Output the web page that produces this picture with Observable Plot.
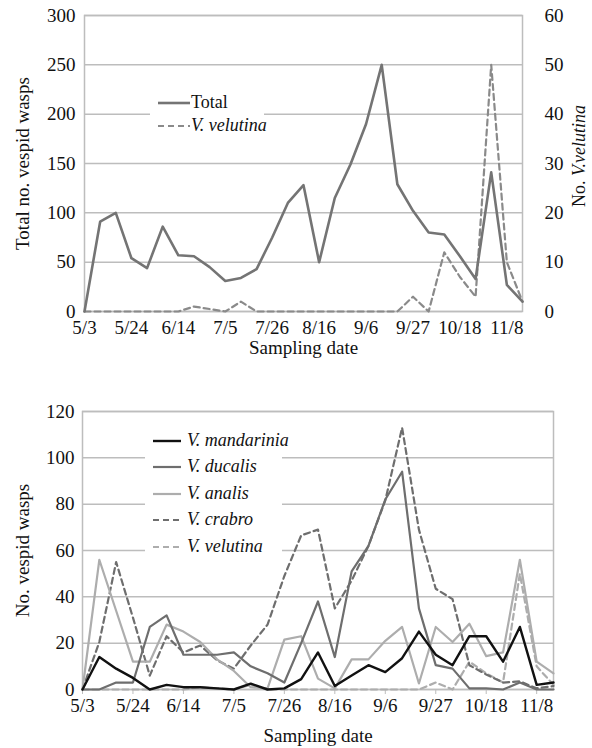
<!DOCTYPE html>
<html><head><meta charset="utf-8">
<script src="https://cdn.jsdelivr.net/npm/d3@7"></script>
<script src="https://cdn.jsdelivr.net/npm/@observablehq/plot@0.6"></script>
<style>
body{margin:0;background:#fff;font-family:"Liberation Serif","Times New Roman",serif;}
#wrap{position:relative;width:592px;height:748px;overflow:hidden;}
#wrap svg{display:block;}
.legend{position:absolute;background:#fff;font-family:"Liberation Serif","Times New Roman",serif;font-size:18px;color:#111;}
.legend svg{position:absolute;left:0;}
.legend span{position:absolute;white-space:nowrap;}
</style></head><body><div id="wrap"></div>
<script>
// ---- data ----
const dates = ["5/3","5/10","5/17","5/24","5/31","6/7","6/14","6/21","6/28","7/5","7/12","7/19","7/26","8/2","8/9","8/16","8/23","8/30","9/6","9/13","9/20","9/27","10/4","10/11","10/18","10/25","11/1","11/8","11/15"];
const tickDates = ["5/3","5/24","6/14","7/5","7/26","8/16","9/6","9/27","10/18","11/8"];
const total      = [0,91,100,54,44,86,57,56,45,31,34,43,75,110,128,50,115,149,190,250,129,102,80,78,56,33,141,27,10];
const velutina   = [0,0,0,0,0,0,0,1,0.5,0,2,0,0,0,0,0,0,0,0,0,0,3,0,12,7,3,50,10,2];
const mandarinia = [0,14,9,5,0,2,1,1,0.5,0,2.5,0,0.5,4.5,16,1.5,6,10.5,7.5,13.5,25,15,10.5,23,23,12,27,2,3];
const ducalis    = [0,0,3,3,27,32,15,15,15,16,10,7,3,20,38,14,51,62,82,94,35,10.5,9,0.5,0.5,0,3,0,0];
const analis     = [0,56,34,12,12,28,25,20.5,13,8,1,0.5,21.5,23,4.7,0.5,13,13,21,27,2.6,27,20.5,28.4,14.4,16,56,12,7];
const crabro     = [0,20.5,55,31,6,23,16,19,12.6,9,19,28,49,66.5,69,35,47,62,81.6,113,69,43.5,39,10.5,6.5,3,3.5,0.5,1.5];
const topTicks = [0,50,100,150,200,250,300];
const rightRatio = 5; // right axis 0-60 vs left 0-300
const bottomTicks = [0,20,40,60,80,100,120];

const series = [
  {name:"V. mandarinia", values: mandarinia, stroke:"#111", width:2.4, dash:null},
  {name:"V. ducalis",    values: ducalis,    stroke:"#6e6e6e", width:2.2, dash:null},
  {name:"V. analis",     values: analis,     stroke:"#adadad", width:2.2, dash:null},
  {name:"V. crabro",     values: crabro,     stroke:"#6e6e6e", width:2.2, dash:"6,4"},
  {name:"V. velutina",   values: velutina,   stroke:"#adadad", width:2.2, dash:"6,4"}
];

const wrap = document.getElementById("wrap");
const FONT = "'Liberation Serif', 'Times New Roman', serif";
const FS = 19;
const gridStroke = "#bdbdbd";
const tickIdx = tickDates.map(d => dates.indexOf(d));
const xScale = {type: "linear", domain: [0, dates.length - 1]};

// ---- top panel ----
const topData = dates.map((d,i)=>({i, date:d, total: total[i], vel: velutina[i]}));
const topPlot = Plot.plot({
  width: 592, height: 360,
  marginLeft: 84, marginRight: 70, marginTop: 15, marginBottom: 49,
  style: {fontFamily: FONT, fontSize: FS + "px", color: "#111", background: "#fff"},
  x: xScale,
  y: {domain: [0, 300]},
  marks: [
    Plot.gridY(topTicks, {stroke: gridStroke, strokeOpacity: 1, strokeWidth: 1.5}),
    Plot.frame({stroke: gridStroke, strokeWidth: 1.5}),
    Plot.axisY(topTicks, {anchor: "left", tickSize: 0, tickPadding: 9, label: null, fontSize: FS}),
    Plot.axisY(topTicks, {anchor: "right", tickSize: 0, tickPadding: 22, label: null, fontSize: FS, tickFormat: d => d / rightRatio}),
    Plot.axisX(tickIdx, {tickSize: 0, tickPadding: 9, label: null, fontSize: FS, tickFormat: i => dates[i]}),
    Plot.text(["Total no. vespid wasps"], {frameAnchor: "left", dx: -62, rotate: -90, fontSize: FS, textAnchor: "middle", lineAnchor: "middle"}),
    Plot.text(["Sampling date"], {frameAnchor: "bottom", dy: 36, fontSize: FS, textAnchor: "middle", lineAnchor: "middle"}),
    Plot.lineY(topData, {x: "i", y: d => d.vel * rightRatio, stroke: "#8a8a8a", strokeWidth: 2.2, strokeDasharray: "6,4"}),
    Plot.lineY(topData, {x: "i", y: "total", stroke: "#747474", strokeWidth: 2.6})
  ]
});
wrap.appendChild(topPlot);
// right axis title with mixed style
d3.select(topPlot).append("text")
  .attr("transform", "translate(585,156) rotate(-90)")
  .attr("text-anchor", "middle").attr("font-family", FONT).attr("font-size", 18).attr("fill", "#111")
  .call(t => { t.append("tspan").text("No. "); t.append("tspan").attr("font-style", "italic").text("V.velutina"); });

// ---- bottom panel ----
const botData = series.flatMap(s => s.values.map((v,i) => ({i, date: dates[i], value: v, name: s.name})));
const botPlot = Plot.plot({
  width: 592, height: 388,
  marginLeft: 82, marginRight: 39, marginTop: 51, marginBottom: 59,
  style: {fontFamily: FONT, fontSize: FS + "px", color: "#111", background: "#fff"},
  x: xScale,
  y: {domain: [0, 120]},
  marks: [
    Plot.gridY(bottomTicks, {stroke: gridStroke, strokeOpacity: 1, strokeWidth: 1.5}),
    Plot.frame({stroke: gridStroke, strokeWidth: 1.5}),
    Plot.axisY(bottomTicks, {anchor: "left", tickSize: 0, tickPadding: 8, label: null, fontSize: FS}),
    Plot.axisX(tickIdx, {tickSize: 5, tickPadding: 4, label: null, fontSize: FS, stroke: gridStroke, tickFormat: i => dates[i]}),
    Plot.text(["No. vespid wasps"], {frameAnchor: "left", dx: -60, rotate: -90, fontSize: FS, textAnchor: "middle", lineAnchor: "middle"}),
    Plot.text(["Sampling date"], {frameAnchor: "bottom", dy: 46, fontSize: FS, textAnchor: "middle", lineAnchor: "middle"}),
    ...series.slice().reverse().map(s =>
      Plot.lineY(botData.filter(d => d.name === s.name), {x: "i", y: "value", stroke: s.stroke, strokeWidth: s.width, strokeDasharray: s.dash || undefined})
    )
  ]
});
wrap.appendChild(botPlot);

// ---- legends (HTML overlays) ----
function legend(items, left, top, lineW, rowH, boxW, boxH, textX) {
  const box = document.createElement("div");
  box.className = "legend";
  Object.assign(box.style, {left: left + "px", top: top + "px", width: boxW + "px", height: boxH + "px"});
  items.forEach((it, i) => {
    const y = 10 + i * rowH;
    const svg = d3.create("svg").attr("width", 40).attr("height", 20)
      .style("top", (y - 10) + "px").style("left", "6px");
    svg.append("line").attr("x1", 2).attr("x2", 2 + lineW).attr("y1", 10).attr("y2", 10)
      .attr("stroke", it.stroke).attr("stroke-width", it.width)
      .attr("stroke-dasharray", it.dash);
    box.appendChild(svg.node());
    const sp = document.createElement("span");
    sp.textContent = it.name;
    if (it.italic) sp.style.fontStyle = "italic";
    sp.style.left = textX + "px";
    sp.style.top = (y - 11) + "px";
    box.appendChild(sp);
  });
  wrap.appendChild(box);
}
legend([
  {name: "Total", stroke: "#747474", width: 2.6, dash: null, italic: false},
  {name: "V. velutina", stroke: "#8a8a8a", width: 2.2, dash: "6,4", italic: true}
], 150, 93, 32, 23, 114, 40, 41);
legend(series.map(s => ({name: s.name, stroke: s.stroke, width: s.width, dash: s.dash, italic: true})),
  145, 431, 28, 26.4, 137, 130, 42);
</script>
</body></html>
